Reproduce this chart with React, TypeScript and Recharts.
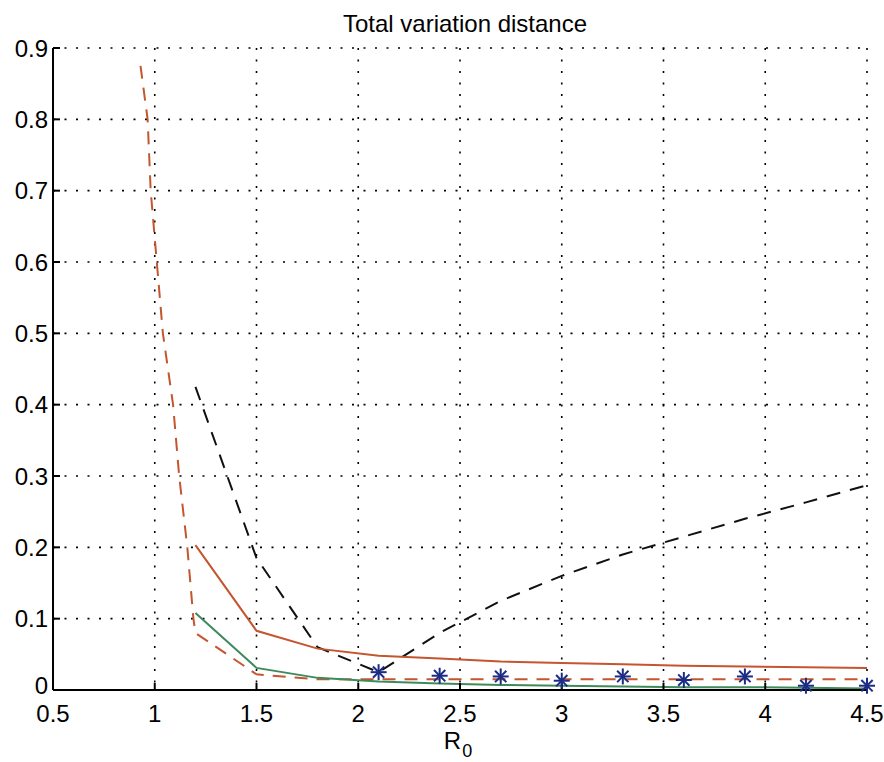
import React from 'react';
import { LineChart, Line, XAxis, YAxis, CartesianGrid } from 'recharts';

// R0 grid used by most series
const rGrid = [1.2, 1.5, 1.8, 2.1, 2.4, 2.7, 3.0, 3.3, 3.6, 3.9, 4.2, 4.5];
const redSolid = [0.203, 0.083, 0.058, 0.048, 0.044, 0.04, 0.038, 0.036, 0.034, 0.033, 0.032, 0.031];
const greenSolid = [0.108, 0.031, 0.017, 0.012, 0.009, 0.007, 0.006, 0.005, 0.004, 0.004, 0.003, 0.002];
const blackDashed = [0.425, 0.185, 0.06, 0.025, 0.08, 0.125, 0.16, 0.19, 0.215, 0.24, 0.263, 0.287];

// red dashed curve starts further left
const redDashedR = [0.93, 0.965, 0.98, 1.01, 1.04, 1.09, 1.12, 1.16, 1.19, 1.2, 1.5, 1.8, 2.1, 2.4, 2.7, 3.0, 3.3, 3.6, 3.9, 4.2, 4.5];
const redDashedV = [0.875, 0.8, 0.7, 0.6, 0.5, 0.4, 0.3, 0.2, 0.1, 0.08, 0.022, 0.015, 0.015, 0.015, 0.015, 0.015, 0.015, 0.015, 0.015, 0.015, 0.015];

// star markers
const starR = [2.1, 2.4, 2.7, 3.0, 3.3, 3.6, 3.9, 4.2, 4.5];
const starV = [0.025, 0.02, 0.019, 0.013, 0.019, 0.014, 0.019, 0.006, 0.006];

const xTicks = [0.5, 1, 1.5, 2, 2.5, 3, 3.5, 4, 4.5];
const yTicks = [0, 0.1, 0.2, 0.3, 0.4, 0.5, 0.6, 0.7, 0.8, 0.9];

const zip = (xs: number[], ys: number[]) => xs.map((r, i) => ({ r, v: ys[i] }));

const redSolidData = zip(rGrid, redSolid);
const greenData = zip(rGrid, greenSolid);
const blackData = zip(rGrid, blackDashed);
const redDashedData = zip(redDashedR, redDashedV);
const starData = zip(starR, starV);

const font = '"Liberation Sans", Arial, sans-serif';
const RED = '#c4562f';
const GREEN = '#3f8a5c';
const STAR = '#1b2c86';

const Star = (props: any) => {
  const { cx, cy } = props;
  if (cx == null || cy == null) return <g />;
  const s = 8;
  const d = s * 0.7071;
  return (
    <g stroke={STAR} strokeWidth={2}>
      <line x1={cx - s} y1={cy} x2={cx + s} y2={cy} />
      <line x1={cx} y1={cy - s} x2={cx} y2={cy + s} />
      <line x1={cx - d} y1={cy - d} x2={cx + d} y2={cy + d} />
      <line x1={cx - d} y1={cy + d} x2={cx + d} y2={cy - d} />
    </g>
  );
};

const RLabel = (props: any) => {
  const vb = props.viewBox || {};
  const cx = vb.x + vb.width / 2;
  return (
    <text x={cx - 2} y={749} fontFamily={font} fontSize={24} fill="#000" textAnchor="middle">
      R
      <tspan fontSize={18} dx={1} dy={8}>0</tspan>
    </text>
  );
};

// y tick: the "0" sits a bit higher so it clears the x tick "0.5"
const YTick = (props: any) => {
  const { x, y, payload } = props;
  const v = payload.value as number;
  const label = v === 0 ? '0' : v.toFixed(1);
  return (
    <text x={x} y={v === 0 ? y - 5 : y} dy="0.355em" textAnchor="end" fontFamily={font} fontSize={24} fill="#000">
      {label}
    </text>
  );
};

const noTick = () => <g />;

export default function App() {
  return (
    <div style={{ position: 'absolute', left: 0, top: 0, width: 884, height: 762, background: '#fff' }}>
      <div
        style={{
          position: 'absolute',
          top: 10,
          left: 0,
          width: 930,
          textAlign: 'center',
          fontFamily: font,
          fontSize: 24,
          color: '#000',
        }}
      >
        Total variation distance
      </div>
      <LineChart width={884} height={762} margin={{ top: 48, right: 17, left: 0, bottom: 32 }}>
        <CartesianGrid stroke="#000" strokeDasharray="2 9.5" strokeWidth={1.6} />
        <XAxis
          dataKey="r"
          type="number"
          domain={[0.5, 4.5]}
          ticks={xTicks}
          allowDuplicatedCategory={false}
          height={40}
          stroke="#000"
          strokeWidth={2}
          tickSize={-7}
          tickMargin={22}
          tick={{ fill: '#000', fontFamily: font, fontSize: 24 }}
          label={<RLabel />}
        />
        <XAxis
          xAxisId="top"
          orientation="top"
          dataKey="r"
          type="number"
          domain={[0.5, 4.5]}
          ticks={xTicks}
          height={0}
          stroke="#000"
          strokeWidth={2}
          tickSize={-7}
          tick={noTick}
        />
        <YAxis
          type="number"
          domain={[0, 0.9]}
          ticks={yTicks}
          width={53}
          stroke="#000"
          strokeWidth={2}
          tickSize={-7}
          tickMargin={12}
          tick={<YTick />}
        />
        <YAxis
          yAxisId="right"
          orientation="right"
          type="number"
          domain={[0, 0.9]}
          ticks={yTicks}
          width={0}
          stroke="#000"
          strokeWidth={2}
          tickSize={-7}
          tick={noTick}
        />
        <Line data={redDashedData} dataKey="v" type="linear" stroke={RED} strokeWidth={2} strokeDasharray="13 9" dot={false} isAnimationActive={false} />
        <Line data={blackData} dataKey="v" type="linear" stroke="#111" strokeWidth={2} strokeDasharray="14 10" dot={false} isAnimationActive={false} />
        <Line data={redSolidData} dataKey="v" type="linear" stroke={RED} strokeWidth={2} dot={false} isAnimationActive={false} />
        <Line data={greenData} dataKey="v" type="linear" stroke={GREEN} strokeWidth={2} dot={false} isAnimationActive={false} />
        <Line data={starData} dataKey="v" type="linear" stroke="none" dot={<Star />} isAnimationActive={false} />
      </LineChart>
    </div>
  );
}
